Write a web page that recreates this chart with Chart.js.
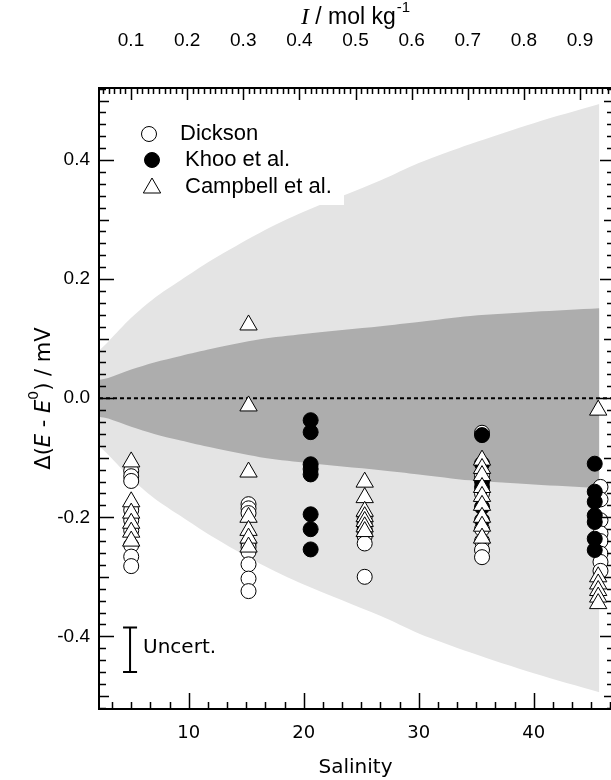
<!DOCTYPE html>
<html>
<head>
<meta charset="utf-8">
<script src="https://cdn.jsdelivr.net/npm/chart.js@4.4.0/dist/chart.umd.min.js"></script>
<style>
html, body { margin: 0; padding: 0; background: #fff; overflow: hidden; }
#wrap { position: relative; width: 614px; height: 780px; }
</style>
</head>
<body>
<div id="wrap"><canvas id="Salinity" width="614" height="780"></canvas></div>
<script>
// Dickson (open circles)
const dicksonSal = [5, 5, 5, 5, 5, 5, 5, 5, 5,
    15.2, 15.2, 15.2, 15.2, 15.2, 15.2, 15.2, 15.2, 15.2,
    25.3, 25.3, 25.3, 25.3, 25.3, 25.3, 25.3,
    35.5, 35.5, 35.5, 35.5, 35.5, 35.5, 35.5,
    45.8, 45.8, 45.8, 45.8, 45.8, 45.8, 45.8, 45.8];
const dicksonDE = [-0.122, -0.131, -0.139, -0.188, -0.205, -0.222, -0.247, -0.266, -0.282,
    -0.178, -0.185, -0.193, -0.244, -0.250, -0.258, -0.279, -0.303, -0.324,
    -0.200, -0.210, -0.220, -0.225, -0.232, -0.244, -0.300,
    -0.058, -0.130, -0.160, -0.220, -0.240, -0.255, -0.267,
    -0.149, -0.170, -0.205, -0.227, -0.240, -0.261, -0.275, -0.290];

// Khoo et al. (filled circles)
const khooSal = [20.6, 20.6, 20.6, 20.6, 20.6, 20.6, 20.6, 20.6,
    35.5, 35.5, 35.5, 35.5, 35.5, 35.5,
    45.3, 45.3, 45.3, 45.3, 45.3, 45.3, 45.3];
const khooDE = [-0.037, -0.057, -0.111, -0.119, -0.128, -0.195, -0.220, -0.254,
    -0.062, -0.110, -0.140, -0.150, -0.183, -0.205,
    -0.110, -0.157, -0.174, -0.197, -0.208, -0.236, -0.255];

// Campbell et al. (open triangles)
const campbellSal = [5, 5, 5, 5, 5, 5,
    15.2, 15.2, 15.2, 15.2, 15.2, 15.2, 15.2,
    25.3, 25.3, 25.3, 25.3, 25.3, 25.3, 25.3,
    35.5, 35.5, 35.5, 35.5, 35.5, 35.5, 35.5, 35.5, 35.5,
    45.6, 45.6, 45.6, 45.6, 45.6, 45.6];
const campbellDE = [-0.107, -0.174, -0.193, -0.210, -0.225, -0.240,
    0.123, -0.013, -0.124, -0.200, -0.222, -0.235, -0.250,
    -0.141, -0.167, -0.190, -0.199, -0.207, -0.216, -0.224,
    -0.104, -0.118, -0.130, -0.150, -0.165, -0.180, -0.200, -0.215, -0.235,
    -0.020, -0.300, -0.312, -0.323, -0.334, -0.345];

// uncertainty bands (half widths, mV)
const bandSal   = [2.2, 3, 5, 7, 9.3, 12, 16.2, 20, 26.7, 30, 34.5, 40, 45.7];
const lightHalf = [0.080, 0.095, 0.135, 0.168, 0.198, 0.232, 0.278, 0.313, 0.366, 0.395, 0.427, 0.462, 0.494];
const darkHalf  = [0.031, 0.034, 0.048, 0.060, 0.071, 0.083, 0.099, 0.108, 0.121, 0.128, 0.138, 0.145, 0.151];

// axes
const salTicks = [10, 20, 30, 40];
const ionTicks = [0.1, 0.2, 0.3, 0.4, 0.5, 0.6, 0.7, 0.8, 0.9];
const deTicks = [-0.4, -0.2, 0.0, 0.2, 0.4];
const salRange = [2.2, 46.8];
const ionRange = [0.043, 0.957];
const deRange = [-0.522, 0.521];

// uncertainty bar
const uncertSal = 4.9;
const uncertLow = -0.46;
const uncertHigh = -0.385;

const pts = (xs, ys) => xs.map((x, i) => ({x: x, y: ys[i]}));

// keep the plot frame where the axes put it
const noPad = s => { s.paddingLeft = 0; s.paddingRight = 0; s.paddingTop = 0; s.paddingBottom = 0; };

const decorations = {
    id: 'decorations',
    afterDatasetsDraw(chart) {
        const ctx = chart.ctx;
        const a = chart.chartArea;
        const x = chart.scales.x, x2 = chart.scales.x2, y = chart.scales.y;
        ctx.save();

        // legend box
        ctx.fillStyle = '#fff';
        ctx.fillRect(a.left, a.top, 245, 117);
        ctx.lineWidth = 1;
        ctx.strokeStyle = '#000';
        ctx.fillStyle = '#fff';
        Chart.helpers.drawPoint(ctx, {pointStyle: 'circle', radius: 7.5, rotation: 0, borderWidth: 1}, 149, 134);
        ctx.fillStyle = '#000';
        Chart.helpers.drawPoint(ctx, {pointStyle: 'circle', radius: 7.5, rotation: 0, borderWidth: 1}, 152, 160);
        ctx.fillStyle = '#fff';
        Chart.helpers.drawPoint(ctx, {pointStyle: 'triangle', radius: 10, rotation: 0, borderWidth: 1}, 152, 188);
        ctx.fillStyle = '#000';
        ctx.font = '22px "Liberation Sans", Arial, sans-serif';
        ctx.textBaseline = 'middle';
        ctx.textAlign = 'left';
        ctx.fillText('Dickson', 180, 134);
        ctx.fillText('Khoo et al.', 185, 160);
        ctx.fillText('Campbell et al.', 185, 187);

        // uncertainty bar
        const ux = x.getPixelForValue(uncertSal);
        const uy1 = y.getPixelForValue(uncertHigh), uy2 = y.getPixelForValue(uncertLow);
        ctx.lineWidth = 2;
        ctx.beginPath();
        ctx.moveTo(ux, uy1); ctx.lineTo(ux, uy2);
        ctx.moveTo(ux - 7, uy1); ctx.lineTo(ux + 7, uy1);
        ctx.moveTo(ux - 7, uy2); ctx.lineTo(ux + 7, uy2);
        ctx.stroke();
        ctx.font = '20px "DejaVu Sans", sans-serif';
        ctx.fillText('Uncert.', ux + 13, (uy1 + uy2) / 2 - 2);

        // frame
        ctx.lineWidth = 2;
        ctx.strokeRect(a.left, a.top, a.right - a.left, a.bottom - a.top);

        // inward ticks
        ctx.lineWidth = 1.5;
        ctx.beginPath();
        for (let k = 2; k <= 28; k++) {
            const v = k * 5 / 3;
            if (v <= salRange[0] || v >= salRange[1]) continue;
            const px = Math.round(x.getPixelForValue(v)) + 0.5;
            const len = k % 6 === 0 ? 16 : 7;
            ctx.moveTo(px, a.bottom); ctx.lineTo(px, a.bottom - len);
        }
        for (let i = 5; i <= 95; i++) {
            const v = i / 100;
            const px = Math.round(x2.getPixelForValue(v)) + 0.5;
            const len = i % 10 === 0 ? 12 : 6;
            ctx.moveTo(px, a.top); ctx.lineTo(px, a.top + len);
        }
        for (let j = -26; j <= 26; j++) {
            const v = j * 0.02;
            const py = Math.round(y.getPixelForValue(v)) + 0.5;
            const lenL = j % 10 === 0 ? 15 : (j % 5 === 0 ? 10 : 7);
            const lenR = j % 10 === 0 ? 12 : (j % 5 === 0 ? 8 : 5);
            ctx.moveTo(a.left, py); ctx.lineTo(a.left + lenL, py);
            ctx.moveTo(a.right, py); ctx.lineTo(a.right - lenR, py);
        }
        ctx.stroke();

        // top title: I / mol kg-1
        const cx = (a.left + 611) / 2;
        ctx.textBaseline = 'alphabetic';
        const fI = 'italic 24px "Liberation Serif", serif';
        const fT = '23px "Liberation Sans", Arial, sans-serif';
        const fS = '15px "Liberation Sans", Arial, sans-serif';
        ctx.font = fI; const wI = ctx.measureText('I').width;
        ctx.font = fT; const wT = ctx.measureText(' / mol kg').width;
        ctx.font = fS; const wS = ctx.measureText('-1').width;
        let tx = cx - (wI + wT + wS) / 2;
        ctx.font = fI; ctx.fillText('I', tx, 24); tx += wI;
        ctx.font = fT; ctx.fillText(' / mol kg', tx, 24); tx += wT;
        ctx.font = fS; ctx.fillText('-1', tx + 1, 12);

        // left title: Δ(E - E0) / mV
        const segs = [
            ['Δ(', '21px "DejaVu Sans", sans-serif', 0],
            ['E', 'italic 21px "DejaVu Sans", sans-serif', 0],
            [' - ', '21px "DejaVu Sans", sans-serif', 0],
            ['E', 'italic 21px "DejaVu Sans", sans-serif', 0],
            ['0', '14px "DejaVu Sans", sans-serif', -12],
            [') / mV', '21px "DejaVu Sans", sans-serif', 0]
        ];
        let total = 0;
        segs.forEach(s => { ctx.font = s[1]; total += ctx.measureText(s[0]).width; });
        ctx.translate(50, (a.top + a.bottom) / 2);
        ctx.rotate(-Math.PI / 2);
        let sx = -total / 2;
        segs.forEach(s => {
            ctx.font = s[1];
            ctx.fillText(s[0], sx, s[2]);
            sx += ctx.measureText(s[0]).width;
        });
        ctx.restore();
    }
};

const ctx = document.getElementById('Salinity').getContext('2d');
const chart = new Chart(ctx, {
    type: 'scatter',
    data: {
        datasets: [
            {
                type: 'line', label: 'light upper',
                data: pts(bandSal, lightHalf),
                fill: 1, backgroundColor: '#e4e4e4', borderWidth: 0, pointRadius: 0, tension: 0.3,
                xAxisID: 'x', yAxisID: 'y', order: 10
            },
            {
                type: 'line', label: 'light lower',
                data: pts(bandSal, lightHalf.map(v => -v)),
                fill: false, borderWidth: 0, pointRadius: 0, tension: 0.3,
                xAxisID: 'x', yAxisID: 'y', order: 10
            },
            {
                type: 'line', label: 'dark upper',
                data: pts(bandSal, darkHalf),
                fill: 3, backgroundColor: '#adadad', borderWidth: 0, pointRadius: 0, tension: 0.3,
                xAxisID: 'x', yAxisID: 'y', order: 8
            },
            {
                type: 'line', label: 'dark lower',
                data: pts(bandSal, darkHalf.map(v => -v)),
                fill: false, borderWidth: 0, pointRadius: 0, tension: 0.3,
                xAxisID: 'x', yAxisID: 'y', order: 8
            },
            {
                type: 'line', label: 'zero',
                data: pts(salRange, [0, 0]),
                borderColor: '#000', borderWidth: 2, borderDash: [4, 3], pointRadius: 0, fill: false,
                xAxisID: 'x', yAxisID: 'y', order: 6
            },
            {
                label: 'Dickson',
                data: pts(dicksonSal, dicksonDE),
                pointStyle: 'circle', pointRadius: 7.5, borderWidth: 1,
                borderColor: '#000', backgroundColor: '#fff',
                xAxisID: 'x', yAxisID: 'y', order: 4
            },
            {
                label: 'Khoo et al.',
                data: pts(khooSal, khooDE),
                pointStyle: 'circle', pointRadius: 7.5, borderWidth: 1,
                borderColor: '#000', backgroundColor: '#000',
                xAxisID: 'x', yAxisID: 'y', order: 3
            },
            {
                label: 'Campbell et al.',
                data: pts(campbellSal, campbellDE),
                pointStyle: 'triangle', pointRadius: 10, borderWidth: 1,
                borderColor: '#000', backgroundColor: '#fff',
                xAxisID: 'x', yAxisID: 'y', order: 2
            }
        ]
    },
    options: {
        responsive: false,
        animation: false,
        devicePixelRatio: 1,
        layout: { autoPadding: false, padding: { left: 0, right: 2, top: 0, bottom: 0 } },
        plugins: { legend: { display: false }, tooltip: { enabled: false } },
        scales: {
            x: {
                type: 'linear', position: 'bottom', min: salRange[0], max: salRange[1],
                grid: { display: false, drawTicks: false }, border: { display: false },
                ticks: { autoSkip: false, maxRotation: 0, padding: 14, color: '#000',
                         font: { family: 'DejaVu Sans', size: 18 } },
                title: { display: true, text: 'Salinity', color: '#000', padding: { top: 0, bottom: 0 },
                         font: { family: 'DejaVu Sans', size: 20 } },
                afterBuildTicks: s => { s.ticks = salTicks.map(v => ({value: v})); },
                afterFit: s => { s.height = 71; noPad(s); }
            },
            x2: {
                type: 'linear', position: 'top', min: ionRange[0], max: ionRange[1],
                grid: { display: false, drawTicks: false }, border: { display: false },
                ticks: { autoSkip: false, maxRotation: 0, padding: 0, color: '#000',
                         font: { family: 'Liberation Sans', size: 19, lineHeight: '94px' },
                         callback: v => v.toFixed(1) },
                afterBuildTicks: s => { s.ticks = ionTicks.map(v => ({value: v})); },
                afterFit: s => { s.height = 88; noPad(s); }
            },
            y: {
                type: 'linear', position: 'left', min: deRange[0], max: deRange[1],
                grid: { display: false, drawTicks: false }, border: { display: false },
                ticks: { padding: 9, color: '#000',
                         font: { family: 'Liberation Sans', size: 19 },
                         callback: v => v.toFixed(1) },
                afterBuildTicks: s => { s.ticks = deTicks.map(v => ({value: v})); },
                afterFit: s => { s.width = 99; noPad(s); }
            }
        }
    },
    plugins: [decorations]
});
</script>
</body>
</html>
